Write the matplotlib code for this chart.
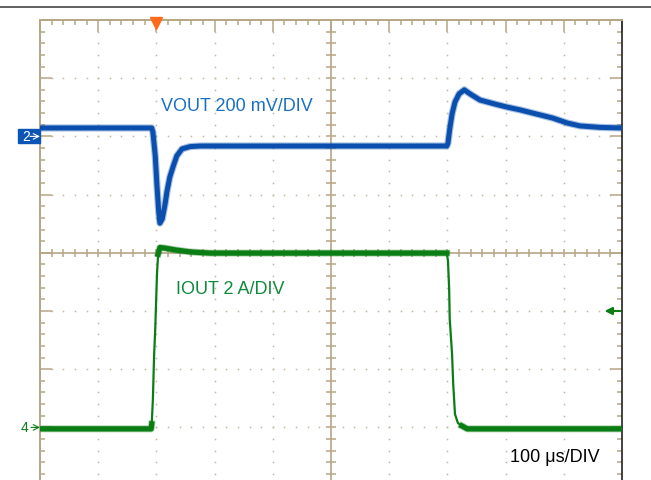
import matplotlib
matplotlib.use("Agg")
import matplotlib.pyplot as plt
from matplotlib.lines import Line2D
from matplotlib.patches import Rectangle
from matplotlib.ticker import MultipleLocator
import numpy as np

plt.rcParams['font.family'] = ['Liberation Sans', 'DejaVu Sans']

# 示波器设置
t_per_div = 100      # µs/DIV
v_per_div = 200      # mV/DIV
i_per_div = 2        # A/DIV
ch2_ref = 2          # VOUT 参考电平 (div)
ch4_ref = -3         # IOUT 参考电平 (div)

# VOUT 波形 (µs, mV，相对 CH2 参考)
vout_t = [0, 192, 194, 198, 201, 204, 206, 210, 215, 218, 223, 229, 235, 244, 258, 275,
          699, 701, 704, 708, 713, 720, 729, 739, 756, 782, 802, 825, 847, 881, 906, 928,
          962, 1000]
vout_mv = [29, 29, 15, -67, -170, -260, -298, -284, -232, -191, -140, -102, -67, -43, -35, -33,
           -33, -23, 25, 77, 118, 146, 160, 146, 125, 111, 101, 91, 80, 63, 46, 36,
           31, 29]

# IOUT 波形 (µs, A)
iout_t = [0, 191, 192, 194, 196, 198, 199, 201, 203, 206, 215, 232, 258, 292,
          699, 701, 703, 704, 708, 710, 713, 718, 725, 734, 1000]
iout_a = [-0.05, -0.05, 0.12, 0.98, 2.45, 3.38, 4.0, 5.27, 5.96, 6.18, 6.16, 6.10, 6.03, 5.99,
          5.99, 5.72, 4.76, 3.72, 2.52, 1.49, 0.46, 0.15, 0.05, -0.05, -0.05]

trig_t = 200         # 触发位置 µs
trig_level_div = -1  # 触发电平

tan = '#b5a684'
dot_c = '#c2b8a0'
blue = '#0a4fae'
green = '#0a7d14'

W, H = 651, 481
fig = plt.figure(figsize=(W / 100, H / 100), dpi=100)
left, top, div_px = 40, 21, 58.2
ax = fig.add_axes([left / W, (H - top - 8 * div_px) / H, 10 * div_px / W, 8 * div_px / H])
ax.set_xlim(0, 10 * t_per_div)
ax.set_ylim(-4, 4)

# 边框和刻度
for s in ['top', 'left', 'bottom']:
    ax.spines[s].set_color(tan)
    ax.spines[s].set_linewidth(1.4)
ax.spines['right'].set_color('#222222')
ax.spines['right'].set_linewidth(1.2)
ax.xaxis.set_major_locator(MultipleLocator(t_per_div))
ax.xaxis.set_minor_locator(MultipleLocator(t_per_div / 5))
ax.yaxis.set_major_locator(MultipleLocator(1))
ax.yaxis.set_minor_locator(MultipleLocator(0.2))
ax.tick_params(which='both', direction='in', top=True, bottom=False, left=True, right=True,
               color=tan, width=1.1, labelleft=False, labelbottom=False)
ax.tick_params(which='major', length=8.6)
ax.tick_params(which='minor', length=3.8)

# 中心十字线
ax.axhline(0, color=tan, lw=1.2, zorder=1)
ax.axvline(5 * t_per_div, color=tan, lw=1.2, zorder=1)
minor_y = np.arange(-4, 4.01, 0.2)
minor_x = np.arange(0, 10 * t_per_div + 1, t_per_div / 5)
ax.plot([5 * t_per_div] * len(minor_y), minor_y, ls='none', marker='_', ms=7.2,
        mec=tan, mew=1.1, zorder=1)
ax.plot(minor_x, [0] * len(minor_x), ls='none', marker='|', ms=6.0,
        mec=tan, mew=1.1, zorder=1)

# 点状网格
for k in [-3, -2, -1, 1, 2, 3]:
    ax.plot(minor_x, [k] * len(minor_x), ls='none', marker='s', ms=1.1,
            mfc=dot_c, mec='none', zorder=1)
for k in [1, 2, 3, 4, 6, 7, 8, 9]:
    ax.plot([k * t_per_div] * len(minor_y), minor_y, ls='none', marker='s', ms=1.1,
            mfc=dot_c, mec='none', zorder=1)

# 波形（底下加一层浅色，模拟噪声带）
vout_div = [ch2_ref + v / v_per_div for v in vout_mv]
iout_div = [ch4_ref + a / i_per_div for a in iout_a]
ax.plot(vout_t, vout_div, color=blue, lw=5.2, alpha=0.35, solid_joinstyle='round', zorder=2)
ax.plot(vout_t, vout_div, color=blue, lw=3.6, solid_joinstyle='round', zorder=3)
ax.plot(iout_t, iout_div, color=green, lw=1.6, zorder=3)
for a, b in [(0, 3), (8, 15), (22, 25)]:
    ax.plot(iout_t[a:b], iout_div[a:b], color=green, lw=5.0, alpha=0.35, zorder=2)
    ax.plot(iout_t[a:b], iout_div[a:b], color=green, lw=3.8, zorder=3)

# 标注文字
ax.text(208, 2.45, 'VOUT 200 mV/DIV', color='#1a6fc4', fontsize=13, va='baseline', zorder=4)
ax.text(234, -0.69, 'IOUT 2 A/DIV', color='#0f8a3c', fontsize=13, va='baseline', zorder=4)
ax.text(808, -3.57, '100 μs/DIV', color='black', fontsize=13, va='baseline', zorder=4)

# 通道标记
ax.add_patch(Rectangle((-22 / 0.582, ch2_ref - 0.12), 22 / 0.582, 0.24, color='#0d55b5',
                       clip_on=False, zorder=5))
ax.text(-18 / 0.582, ch2_ref, '2', color='white', fontsize=10, va='center', zorder=6,
        clip_on=False)
ax.annotate('', xy=(0, ch2_ref), xytext=(-10 / 0.582, ch2_ref), zorder=6,
            arrowprops=dict(arrowstyle='->', color='white', lw=0.8, shrinkA=0, shrinkB=0))
ax.text(-19 / 0.582, ch4_ref, '4', color=green, fontsize=10, va='center', clip_on=False)
ax.annotate('', xy=(0, ch4_ref), xytext=(-9 / 0.582, ch4_ref),
            arrowprops=dict(arrowstyle='->', color=green, lw=0.8, shrinkA=0, shrinkB=0))

# 触发标记
ax.plot(trig_t, 4 - 0.06, marker='v', ms=8, color='#ff6a1a', clip_on=False, zorder=6)
ax.annotate('', xy=(970, trig_level_div), xytext=(997, trig_level_div),
            arrowprops=dict(arrowstyle='-|>', color=green, lw=1.5, mutation_scale=11,
                            shrinkA=0, shrinkB=0))

# 顶部分隔线
fig.add_artist(Line2D([0, 1], [1 - 8 / H] * 2, color='#555555', lw=1.3))

fig.savefig('out.png', dpi=100)
